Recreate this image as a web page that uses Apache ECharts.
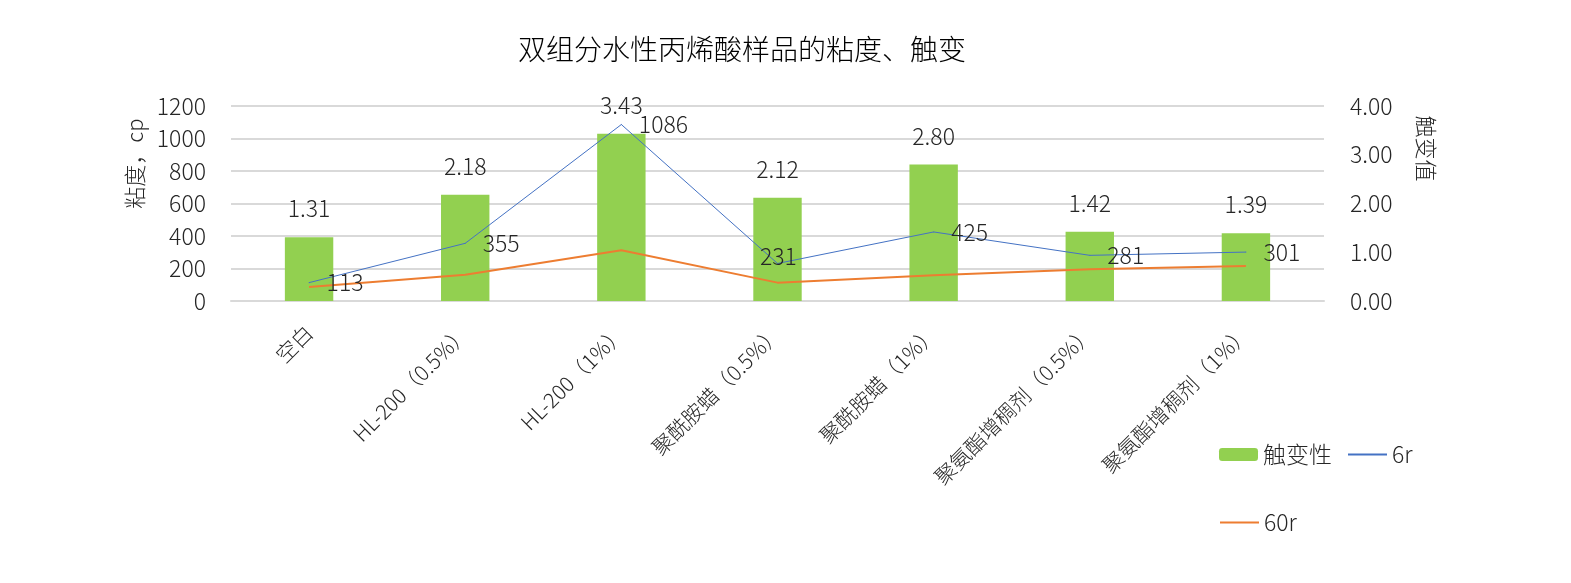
<!DOCTYPE html>
<html>
<head>
<meta charset="utf-8">
<script src="https://cdn.jsdelivr.net/npm/echarts@6/dist/echarts.min.js"></script>
<style>
html, body { margin: 0; padding: 0; background: #fff; }
#chart { width: 1571px; height: 583px; }
</style>
</head>
<body>
<div id="chart"></div>
<script>
var categories = ['空白', 'HL-200（0.5%）', 'HL-200（1%）', '聚酰胺蜡（0.5%）', '聚酰胺蜡（1%）', '聚氨酯增稠剂（0.5%）', '聚氨酯增稠剂（1%）'];
var thixotropy = [1.31, 2.18, 3.43, 2.12, 2.80, 1.42, 1.39];
var visc6r = [113, 355, 1086, 231, 425, 281, 301];
var visc60r = [86, 162, 312, 113, 158, 195, 215];

var font = 'Noto Sans CJK SC';
var textColor = '#262626';

// 6r 的 231 标签在 Excel 里被挪到了点的上方
var data6r = visc6r.map(function (v, i) {
	if (i === 3) {
		return { value: v, label: { offset: [-35, -7] } };
	}
	return v;
});

var legendText = { fontFamily: font, fontSize: 23, fontWeight: 300, color: textColor };

var option = {
	backgroundColor: '#fff',
	textStyle: { fontFamily: font, color: textColor, fontWeight: 300 },
	title: {
		text: '双组分水性丙烯酸样品的粘度、触变',
		left: 513,
		top: 30,
		textStyle: { fontFamily: font, fontSize: 28, fontWeight: 300, color: '#000' }
	},
	legend: [{
		data: ['触变性', { name: '6r', itemStyle: { opacity: 0 } }],
		left: 1214,
		top: 438,
		itemWidth: 39,
		itemHeight: 13,
		itemGap: 15,
		textStyle: legendText
	}, {
		data: [{ name: '60r', itemStyle: { opacity: 0 } }],
		left: 1214,
		top: 506,
		itemWidth: 39,
		itemHeight: 13,
		textStyle: legendText
	}],
	grid: { left: 231, right: 247, top: 106, bottom: 282 },
	xAxis: {
		type: 'category',
		data: categories,
		axisLine: { lineStyle: { color: '#D9D9D9', width: 2 } },
		axisTick: { show: false },
		axisLabel: {
			interval: 0,
			rotate: 45,
			margin: 28,
			fontSize: 21,
			fontFamily: font,
			fontWeight: 300,
			color: textColor
		}
	},
	yAxis: [{
		type: 'value',
		min: 0,
		max: 1200,
		interval: 200,
		name: '粘度，cp',
		nameLocation: 'middle',
		nameRotate: 90,
		nameGap: 63,
		nameTextStyle: { fontSize: 22, fontFamily: font, fontWeight: 300, color: textColor, padding: [0, 0, 0, 80] },
		axisLine: { show: false },
		axisTick: { show: false },
		splitLine: { lineStyle: { color: '#D9D9D9', width: 2 } },
		axisLabel: {
			margin: 25,
			fontSize: 23,
			fontFamily: font,
			fontWeight: 300,
			color: textColor,
			formatter: function (v) { return String(v); }
		}
	}, {
		type: 'value',
		min: 0,
		max: 4,
		interval: 1,
		name: '触变值',
		nameLocation: 'middle',
		nameRotate: -90,
		nameGap: 91,
		nameTextStyle: { fontSize: 22, fontFamily: font, fontWeight: 300, color: textColor, padding: [0, 110, 0, 0] },
		axisLine: { show: false },
		axisTick: { show: false },
		splitLine: { show: false },
		axisLabel: {
			margin: 26,
			fontSize: 23,
			fontFamily: font,
			fontWeight: 300,
			color: textColor,
			formatter: function (v) { return v.toFixed(2); }
		}
	}],
	series: [{
		name: '触变性',
		type: 'bar',
		yAxisIndex: 1,
		barWidth: '31%',
		data: thixotropy,
		itemStyle: { color: '#92D050' },
		label: {
			show: true,
			position: 'top',
			distance: 17,
			fontSize: 23,
			fontFamily: font,
			fontWeight: 300,
			color: textColor,
			formatter: function (p) { return p.value.toFixed(2); }
		}
	}, {
		name: '6r',
		type: 'line',
		yAxisIndex: 0,
		data: data6r,
		symbol: 'circle',
		symbolSize: 1,
		lineStyle: { color: '#4472C4', width: 1 },
		itemStyle: { color: '#4472C4' },
		label: {
			show: true,
			position: 'right',
			distance: 17,
			fontSize: 23,
			fontFamily: font,
			fontWeight: 300,
			color: textColor
		},
		z: 3
	}, {
		name: '60r',
		type: 'line',
		yAxisIndex: 0,
		data: visc60r,
		symbol: 'none',
		lineStyle: { color: '#ED7D31', width: 2 },
		itemStyle: { color: '#ED7D31' },
		z: 2
	}]
};

var myChart = echarts.init(document.getElementById('chart'));
myChart.setOption(option);
</script>
</body>
</html>
